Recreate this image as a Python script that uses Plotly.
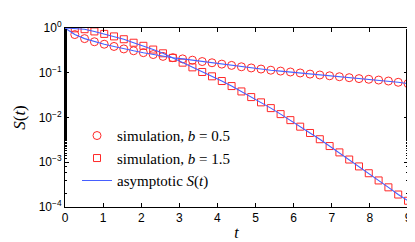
import plotly.graph_objects as go

# time grid of simulated points
t_vals = [0.257, 0.514, 0.771, 1.029, 1.286, 1.543, 1.800, 2.057, 2.314, 2.571,
          2.829, 3.086, 3.343, 3.600, 3.857, 4.114, 4.371, 4.629, 4.886, 5.143,
          5.400, 5.657, 5.914, 6.171, 6.429, 6.686, 6.943, 7.200, 7.457, 7.714,
          7.971, 8.229, 8.486, 8.743, 9.000]

sim_b05 = [0.713, 0.579, 0.493, 0.434, 0.387, 0.341, 0.310, 0.281, 0.255, 0.232,
           0.217, 0.204, 0.191, 0.178, 0.167, 0.156, 0.146, 0.136, 0.128, 0.121,
           0.114, 0.109, 0.104, 0.0989, 0.0933, 0.0891, 0.0855, 0.0815, 0.0776, 0.0740,
           0.0715, 0.0687, 0.0653, 0.0612, 0.0573]

sim_b15 = [0.982, 0.940, 0.838, 0.738, 0.649, 0.561, 0.469, 0.400, 0.330, 0.272,
           0.215, 0.168, 0.132, 0.104, 0.0832, 0.0653, 0.0504, 0.0382, 0.0286, 0.0218,
           0.0162, 0.0119, 0.00873, 0.00624, 0.00451, 0.00327, 0.00230, 0.00166, 0.00115, 0.000807,
           0.000568, 0.000392, 0.000275, 0.000190, 0.000138]

asym_t = [0.0] + t_vals
asym_b05 = [1.0] + sim_b05
asym_b15 = [1.0] + sim_b15

x_ticks = [0, 1, 2, 3, 4, 5, 6, 7, 8, 9]
y_ticks = [1e-4, 1e-3, 1e-2, 1e-1, 1]
y_tick_text = ["10<sup>−4</sup>", "10<sup>−3</sup>", "10<sup>−2</sup>", "10<sup>−1</sup>", "10<sup>0</sup>"]

red = "rgb(255,40,40)"
blue = "rgb(70,95,255)"
serif = "Liberation Serif"
sans = "Liberation Sans"

fig = go.Figure()
fig.add_trace(go.Scatter(x=t_vals, y=sim_b05, mode="markers", name="simulation, <i>b</i> = 0.5",
                         marker=dict(symbol="circle-open", size=8, color=red, line=dict(width=1, color=red))))
fig.add_trace(go.Scatter(x=t_vals, y=sim_b15, mode="markers", name="simulation, <i>b</i> = 1.5",
                         marker=dict(symbol="square-open", size=7, color=red, line=dict(width=1, color=red))))
fig.add_trace(go.Scatter(x=asym_t, y=asym_b05, mode="lines", name="asymptotic <i>S</i>(<i>t</i>)",
                         legendgroup="asym", line=dict(color=blue, width=1.1)))
fig.add_trace(go.Scatter(x=asym_t, y=asym_b15, mode="lines", name="asymptotic <i>S</i>(<i>t</i>)",
                         legendgroup="asym", showlegend=False, line=dict(color=blue, width=1.1)))

fig.update_layout(
    width=415, height=242,
    margin=dict(l=54, r=11, t=19, b=32),
    plot_bgcolor="white", paper_bgcolor="white",
    showlegend=True,
    legend=dict(x=0.035, y=0.49, xanchor="left", yanchor="top", bgcolor="rgba(0,0,0,0)",
                font=dict(family=serif, size=15, color="black"), tracegroupgap=0),
)
fig.update_xaxes(range=[0, 9], tickvals=x_ticks, ticks="inside", ticklen=4, tickcolor="black",
                 showline=True, linecolor="black", linewidth=1, mirror="allticks", showgrid=False, zeroline=False,
                 tickfont=dict(family=sans, size=12, color="black"),
                 title=dict(text="<i>t</i>", font=dict(family=serif, size=16, color="black"), standoff=2))
fig.update_yaxes(type="log", range=[-4, 0], tickvals=y_ticks, ticktext=y_tick_text, ticks="inside", ticklen=4,
                 tickcolor="black", showline=True, linecolor="black", linewidth=1, mirror="allticks",
                 showgrid=False, zeroline=False,
                 minor=dict(ticks="inside", ticklen=2, tickcolor="black", showgrid=False),
                 tickfont=dict(family=sans, size=12, color="black"),
                 title=dict(text="<i>S</i>(<i>t</i>)", font=dict(family=serif, size=17, color="black"), standoff=8))

fig.write_html("out.html")
